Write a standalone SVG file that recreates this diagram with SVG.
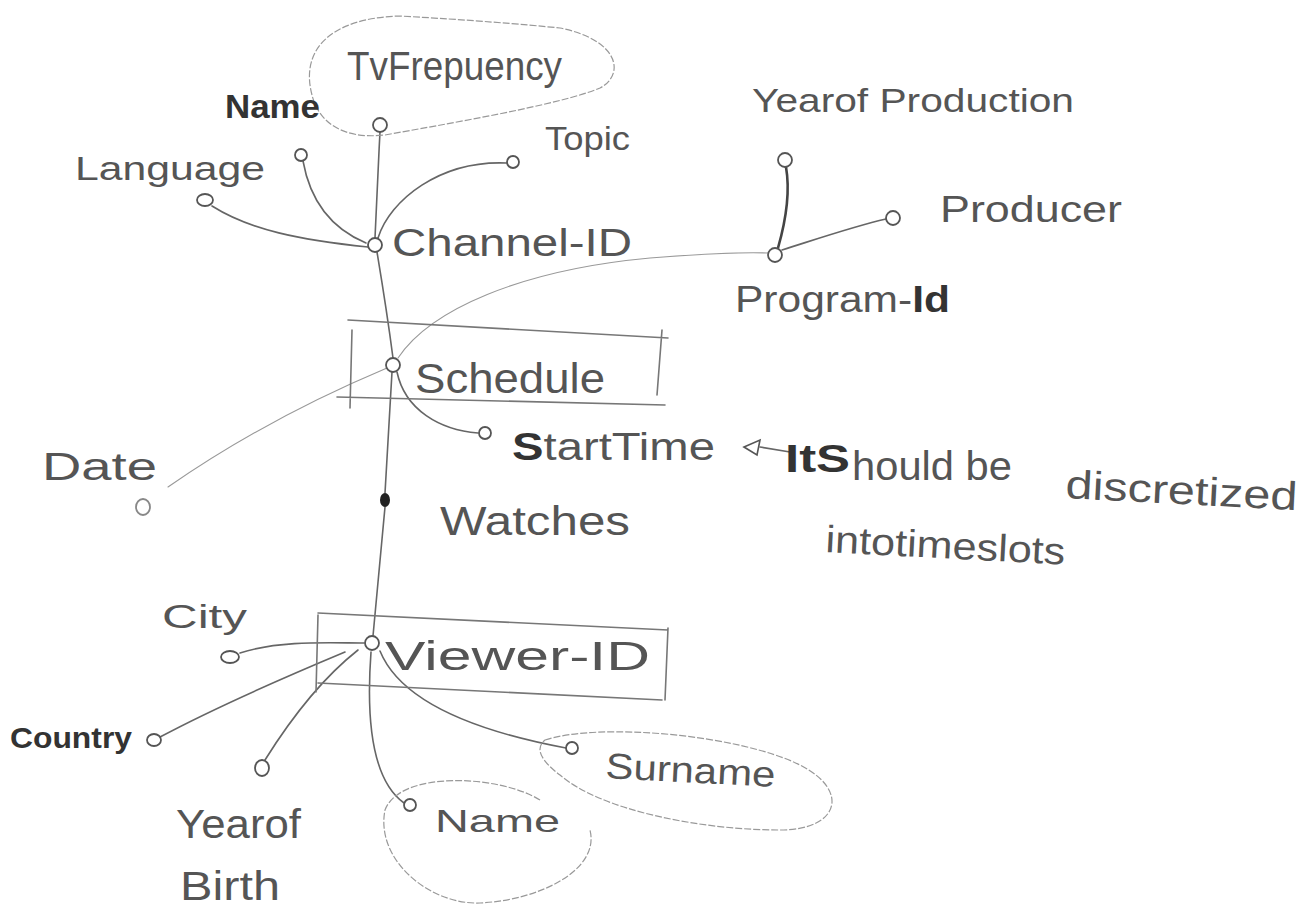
<svg xmlns="http://www.w3.org/2000/svg" width="1313" height="916" viewBox="0 0 1313 916">
<style>
.t{font-family:"Liberation Sans",Arial,sans-serif;fill:#555;font-weight:normal}
.b{font-weight:bold;fill:#333}
.c{fill:#fff;stroke:#555;stroke-width:1.8}
.ln{fill:none;stroke:#666;stroke-width:1.6;stroke-linecap:round}
.lt{fill:none;stroke:#999;stroke-width:1.1;stroke-linecap:round}
.bx{fill:none;stroke:#777;stroke-width:1.6;stroke-linecap:round}
.bl{fill:none;stroke:#999;stroke-width:1.2;stroke-dasharray:7 2}
</style>
<rect width="1313" height="916" fill="#fff"/>
<g id="connectors">
<path class="ln" d="M380,132 C378,170 376,210 375,238"/>
<path class="ln" d="M303,161 C310,200 330,228 366,243"/>
<path class="ln" d="M212,206 C250,230 300,240 368,247"/>
<path class="ln" d="M507,163 C440,160 390,200 378,238"/>
<path class="ln" d="M377,252 C385,300 390,335 393,358"/>
<path class="lt" d="M168,487 C250,430 330,392 387,368"/>
<path class="lt" d="M398,358 C430,310 520,270 650,258 C700,254 740,252 768,253"/>
<path class="ln" d="M397,372 C405,410 440,430 478,433"/>
<path class="ln" d="M392,372 C389,420 387,460 385,493 M385,507 C380,560 376,600 373,636"/>
<path class="ln" style="stroke:#444;stroke-width:2.6" d="M778,248 C786,220 790,190 786,167"/>
<path class="ln" d="M782,250 C820,238 855,226 886,219"/>
<path class="ln" d="M240,653 C280,640 330,643 364,643"/>
<path class="ln" d="M160,737 C220,705 290,675 345,652"/>
<path class="ln" d="M265,760 C290,720 320,680 358,650"/>
<path class="ln" d="M371,652 C366,720 372,780 404,803"/>
<path class="ln" d="M380,651 C400,700 470,730 566,748"/>
<path class="ln" d="M790,452 L760,447"/>
<polygon points="744,447 760,440 757,455" fill="none" stroke="#555" stroke-width="1.6"/>
</g>
<g id="tvfrequency">
<path class="bl" d="M312,95 C300,50 330,18 400,16 C470,20 520,24 560,28 C620,40 625,75 600,88 C560,105 440,125 385,135 C340,140 318,120 312,95 Z"/>
<circle class="c" cx="380" cy="125" r="7"/>
<text class="t" x="347" y="80" font-size="40" textLength="215" lengthAdjust="spacingAndGlyphs">TvFrepuency</text>
</g>
<g id="name-channel">
<circle class="c" cx="301" cy="155" r="6"/>
<text class="t b" x="225" y="118" font-size="34" textLength="95" lengthAdjust="spacingAndGlyphs">Name</text>
</g>
<g id="language">
<ellipse class="c" cx="205" cy="200" rx="8" ry="6"/>
<text class="t" x="75" y="180" font-size="34" textLength="190" lengthAdjust="spacingAndGlyphs">Language</text>
</g>
<g id="topic">
<circle class="c" cx="513" cy="162" r="6"/>
<text class="t" x="545" y="150" font-size="34" textLength="85" lengthAdjust="spacingAndGlyphs">Topic</text>
</g>
<g id="channel-id">
<circle class="c" cx="375" cy="245" r="7"/>
<text class="t" x="392" y="256" font-size="38" textLength="240" lengthAdjust="spacingAndGlyphs">Channel-ID</text>
</g>
<g id="year-of-production">
<circle class="c" cx="785" cy="160" r="7"/>
<text class="t" x="752" y="112" font-size="34" textLength="322" lengthAdjust="spacingAndGlyphs">Yearof Production</text>
</g>
<g id="producer">
<circle class="c" cx="893" cy="218" r="7"/>
<text class="t" x="940" y="222" font-size="36" textLength="182" lengthAdjust="spacingAndGlyphs">Producer</text>
</g>
<g id="program-id">
<circle class="c" cx="775" cy="255" r="7"/>
<text class="t" x="735" y="312" font-size="36" textLength="215" lengthAdjust="spacingAndGlyphs">Program-<tspan class="b">Id</tspan></text>
</g>
<g id="schedule">
<path class="bx" d="M348,320 L668,338 M352,330 L350,408 M337,397 L665,405 M662,330 L657,395"/>
<circle class="c" cx="393" cy="365" r="7"/>
<text class="t" x="415" y="393" font-size="42" textLength="190" lengthAdjust="spacingAndGlyphs">Schedule</text>
</g>
<g id="date">
<ellipse class="c" cx="143" cy="507" rx="7" ry="8" style="stroke:#888"/>
<text class="t" x="42" y="480" font-size="38" textLength="115" lengthAdjust="spacingAndGlyphs">Date</text>
</g>
<g id="starttime">
<circle class="c" cx="485" cy="433" r="6"/>
<text class="t" x="512" y="460" font-size="38" textLength="203" lengthAdjust="spacingAndGlyphs"><tspan class="b">S</tspan>tartTime</text>
</g>
<g id="note">
<text class="t b" x="785" y="472" font-size="38" textLength="65" lengthAdjust="spacingAndGlyphs">ItS</text>
<text class="t" x="852" y="480" font-size="40" textLength="160" lengthAdjust="spacingAndGlyphs">hould be</text>
<text class="t" x="1065" y="498" font-size="40" textLength="232" lengthAdjust="spacingAndGlyphs" transform="rotate(3 1065 498)">discretized</text>
<text class="t" x="825" y="552" font-size="38" textLength="240" lengthAdjust="spacingAndGlyphs" transform="rotate(3 825 552)">intotimeslots</text>
</g>
<g id="watches">
<ellipse cx="385" cy="500" rx="5" ry="7" fill="#222"/>
<text class="t" x="440" y="535" font-size="40" textLength="190" lengthAdjust="spacingAndGlyphs">Watches</text>
</g>
<g id="viewer">
<path class="bx" d="M318,613 L668,630 M318,615 L316,692 M318,683 L662,700 M668,628 L665,700"/>
<circle class="c" cx="372" cy="643" r="7"/>
<text class="t" x="385" y="670" font-size="40" textLength="265" lengthAdjust="spacingAndGlyphs">Viewer-ID</text>
</g>
<g id="city">
<ellipse class="c" cx="230" cy="657" rx="9" ry="6"/>
<text class="t" x="162" y="628" font-size="34" textLength="85" lengthAdjust="spacingAndGlyphs">City</text>
</g>
<g id="country">
<ellipse class="c" cx="154" cy="740" rx="7" ry="6"/>
<text class="t b" x="10" y="748" font-size="30" textLength="122" lengthAdjust="spacingAndGlyphs">Country</text>
</g>
<g id="year-of-birth">
<ellipse class="c" cx="262" cy="768" rx="7" ry="8"/>
<text class="t" font-size="40"><tspan x="176" y="838" textLength="125" lengthAdjust="spacingAndGlyphs">Yearof</tspan><tspan x="180" y="900" textLength="100" lengthAdjust="spacingAndGlyphs">Birth</tspan></text>
</g>
<g id="name-viewer">
<path class="bl" d="M540,800 C500,775 400,770 385,810 C375,860 430,905 480,903 C540,900 600,870 590,830"/>
<circle class="c" cx="410" cy="805" r="6"/>
<text class="t" x="435" y="832" font-size="32" textLength="125" lengthAdjust="spacingAndGlyphs">Name</text>
</g>
<g id="surname">
<path class="bl" d="M545,740 C600,722 740,735 800,765 C850,790 840,830 780,830 C700,830 600,810 560,775 C540,760 535,748 545,740 Z"/>
<circle class="c" cx="572" cy="748" r="6"/>
<text class="t" x="605" y="778" font-size="36" textLength="170" lengthAdjust="spacingAndGlyphs" transform="rotate(3 605 778)">Surname</text>
</g>
</svg>
